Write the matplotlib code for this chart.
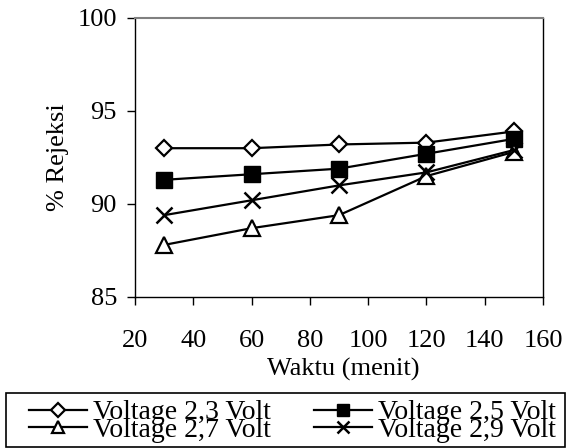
import matplotlib
matplotlib.use("Agg")
import matplotlib.pyplot as plt
from matplotlib.patches import Rectangle

plt.rcParams['font.family'] = ['Liberation Serif', 'DejaVu Serif']

# data
waktu = [30, 60, 90, 120, 150]
v23 = [93.0, 93.0, 93.2, 93.3, 93.9]
v25 = [91.3, 91.6, 91.9, 92.7, 93.5]
v27 = [87.8, 88.7, 89.4, 91.5, 92.8]
v29 = [89.4, 90.2, 91.0, 91.7, 92.9]

labels = ["Voltage 2,3 Volt", "Voltage 2,5 Volt", "Voltage 2,7 Volt", "Voltage 2,9 Volt"]
xticks = [20, 40, 60, 80, 100, 120, 140, 160]
yticks = [85, 90, 95, 100]

fs = 19

fig = plt.figure(figsize=(5.66, 4.48), dpi=100)
ax = fig.add_axes([135 / 566, 1 - 297 / 448, 408 / 566, 279 / 448])

lw = 1.6
l1, = ax.plot(waktu, v23, color='black', lw=lw, marker='D', ms=8,
              mfc='white', mec='black', mew=1.6)
l2, = ax.plot(waktu, v25, color='black', lw=lw, marker='s', ms=11,
              mfc='black', mec='black')
l3, = ax.plot(waktu, v27, color='black', lw=lw, marker='^', ms=11,
              mfc='white', mec='black', mew=1.6)
l4, = ax.plot(waktu, v29, color='black', lw=lw, marker='x', ms=11,
              mec='black', mew=1.8)

ax.set_xlim(20, 160)
ax.set_ylim(85, 100)
ax.set_xticks(xticks)
ax.set_yticks(yticks)
ax.tick_params(axis='both', direction='out', length=6, width=1, labelsize=fs)
ax.tick_params(axis='x', pad=18)
ax.tick_params(axis='y', pad=7)

for s in ['left', 'right', 'bottom']:
    ax.spines[s].set_color('black')
    ax.spines[s].set_linewidth(1)
ax.spines['top'].set_color('#808080')
ax.spines['top'].set_linewidth(1.5)

fig.text(58 / 566, 1 - 157 / 448, "% Rejeksi", rotation=90, ha='center',
         va='center', fontsize=fs)
fig.text(343 / 566, 1 - 369 / 448, "Waktu (menit)", ha='center',
         va='center', fontsize=fs)

# legend box drawn separately so it spans the full width
fig.patches.append(Rectangle((6 / 566, 1 / 448), 559 / 566, 54 / 448,
                             transform=fig.transFigure, fill=False,
                             edgecolor='black', lw=1.2))

# column-first order: 2,3 / 2,7 then 2,5 / 2,9
leg = fig.legend([l1, l3, l2, l4], [labels[0], labels[2], labels[1], labels[3]],
                 ncol=2, loc='upper left',
                 bbox_to_anchor=(29 / 566, 1 - 400 / 448),
                 borderaxespad=0, borderpad=0, fontsize=20, frameon=False,
                 handlelength=2.1, handletextpad=0.2, labelspacing=-0.28,
                 columnspacing=1.55, markerscale=0.85)

fig.savefig("out.png", dpi=100)
